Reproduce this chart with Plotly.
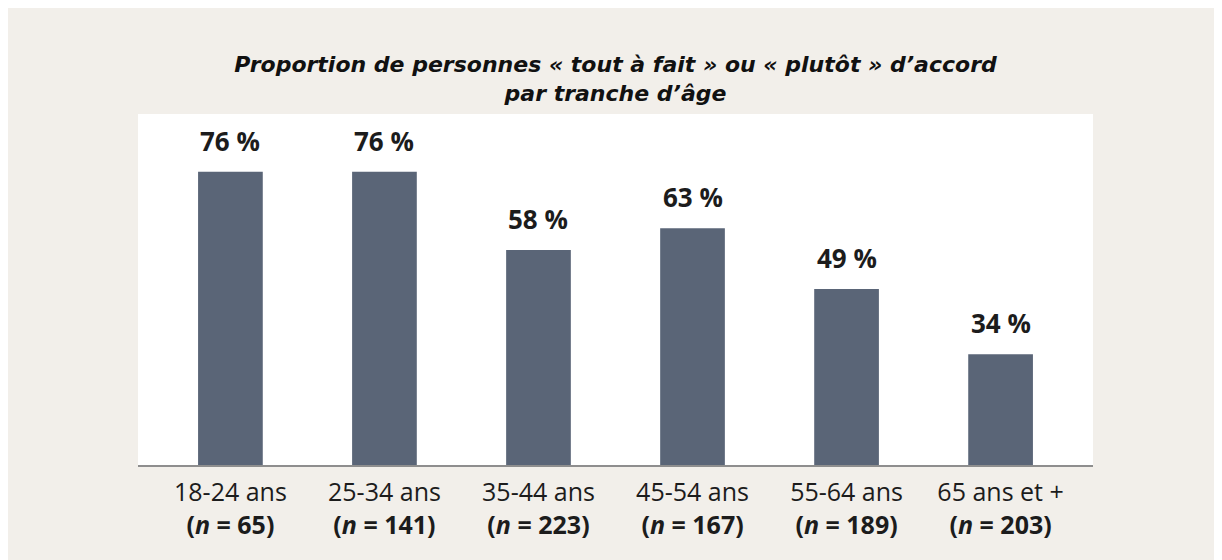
import plotly.graph_objects as go

categories = ["18-24 ans", "25-34 ans", "35-44 ans", "45-54 ans", "55-64 ans", "65 ans et +"]
sample_sizes = [65, 141, 223, 167, 189, 203]
values = [76, 76, 58, 63, 49, 34]

W, H = 1222, 560
ML, MR, MT, MB = 130, 137, 106, 103

BEIGE = "#f2efea"
BAR = "#5a6577"
TXT = "#1c1c1c"

ticktext = [f"{c}<br><b>(<i>n</i> = {n})</b>" for c, n in zip(categories, sample_sizes)]

fig = go.Figure()
fig.add_trace(go.Bar(
    x=categories, y=values, marker=dict(color=BAR, line=dict(width=0)),
    hoverinfo="skip",
))

for c, v in zip(categories, values):
    fig.add_annotation(x=c, y=v, xref="x", yref="y", text=f"<b>{v} %</b>",
                       showarrow=False, yanchor="bottom", yshift=11,
                       font=dict(size=26, color=TXT, family="Open Sans"))

fig.update_layout(
    width=W, height=H,
    margin=dict(l=ML, r=MR, t=MT, b=MB, pad=0),
    paper_bgcolor=BEIGE, plot_bgcolor="white",
    bargap=0.58, showlegend=False,
    title=dict(
        text="<b><i>Proportion de personnes « tout à fait » ou « plutôt » d’accord<br>par tranche d’âge</i></b>",
        x=0.5, xref="paper", xanchor="center", y=1 - 64 / H, yanchor="middle",
        font=dict(size=22, color="#111111", family="DejaVu Sans"),
    ),
    xaxis=dict(
        tickmode="array", tickvals=categories, ticktext=ticktext,
        range=[-0.6, 5.6], showgrid=False, zeroline=False,
        showline=True, linecolor="#8e8e8e", linewidth=2,
        ticks="outside", ticklen=4, tickcolor="rgba(0,0,0,0)",
        tickfont=dict(size=25, color=TXT, family="Open Sans"),
    ),
    yaxis=dict(range=[8.5, 89.3], visible=False, showgrid=False, zeroline=False),
    font=dict(family="Open Sans"),
)

fig.write_html("out.html")
